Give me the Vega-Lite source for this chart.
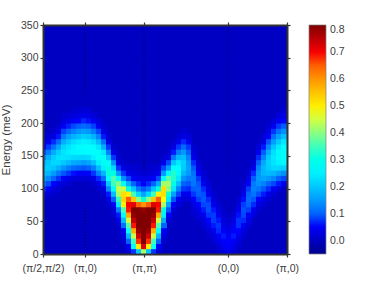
{"$schema":"https://vega.github.io/schema/vega-lite/v6.json","width":244,"height":229,"autosize":"none","padding":{"left":43,"top":25,"right":87,"bottom":35},"background":"white","config":{"view":{"stroke":null},"font":"Liberation Sans"},
"datasets":{"bg":[{"x":0,"x2":244,"y":0,"y2":350,"v":0}],"guides":[{"x":42,"y":245,"y2":350},{"x":42,"y":0,"y2":78},{"x":101,"y":128,"y2":350},{"x":185,"y":128,"y2":350}],
"cells":[
{"x":1,"y":84,"v":0.014},{"x":1,"y":92,"v":0.033},{"x":1,"y":100,"v":0.065},{"x":1,"y":108,"v":0.109},{"x":1,"y":116,"v":0.157},{"x":1,"y":124,"v":0.191},{"x":1,"y":132,"v":0.199},{"x":1,"y":140,"v":0.176},{"x":1,"y":148,"v":0.133},{"x":1,"y":156,"v":0.086},{"x":1,"y":164,"v":0.047},{"x":1,"y":172,"v":0.022},{"x":1,"y":180,"v":0.012},
{"x":6,"y":92,"v":0.02},{"x":6,"y":100,"v":0.045},{"x":6,"y":108,"v":0.084},{"x":6,"y":116,"v":0.134},{"x":6,"y":124,"v":0.18},{"x":6,"y":132,"v":0.207},{"x":6,"y":140,"v":0.2},{"x":6,"y":148,"v":0.17},{"x":6,"y":156,"v":0.12},{"x":6,"y":164,"v":0.073},{"x":6,"y":172,"v":0.038},{"x":6,"y":180,"v":0.017},
{"x":11,"y":92,"v":0.011},{"x":11,"y":100,"v":0.027},{"x":11,"y":108,"v":0.056},{"x":11,"y":116,"v":0.101},{"x":11,"y":124,"v":0.153},{"x":11,"y":132,"v":0.198},{"x":11,"y":140,"v":0.22},{"x":11,"y":148,"v":0.207},{"x":11,"y":156,"v":0.166},{"x":11,"y":164,"v":0.112},{"x":11,"y":172,"v":0.066},{"x":11,"y":180,"v":0.033},{"x":11,"y":188,"v":0.014},
{"x":16,"y":100,"v":0.015},{"x":16,"y":108,"v":0.034},{"x":16,"y":116,"v":0.069},{"x":16,"y":124,"v":0.118},{"x":16,"y":132,"v":0.173},{"x":16,"y":140,"v":0.216},{"x":16,"y":148,"v":0.23},{"x":16,"y":156,"v":0.207},{"x":16,"y":164,"v":0.16},{"x":16,"y":172,"v":0.106},{"x":16,"y":180,"v":0.059},{"x":16,"y":188,"v":0.03},{"x":16,"y":196,"v":0.012},
{"x":21,"y":108,"v":0.021},{"x":21,"y":116,"v":0.048},{"x":21,"y":124,"v":0.09},{"x":21,"y":132,"v":0.146},{"x":21,"y":140,"v":0.2},{"x":21,"y":148,"v":0.235},{"x":21,"y":156,"v":0.236},{"x":21,"y":164,"v":0.215},{"x":21,"y":172,"v":0.17},{"x":21,"y":180,"v":0.12},{"x":21,"y":188,"v":0.078},{"x":21,"y":196,"v":0.045},{"x":21,"y":204,"v":0.024},{"x":21,"y":212,"v":0.01},
{"x":26,"y":108,"v":0.014},{"x":26,"y":116,"v":0.034},{"x":26,"y":124,"v":0.07},{"x":26,"y":132,"v":0.122},{"x":26,"y":140,"v":0.182},{"x":26,"y":148,"v":0.23},{"x":26,"y":156,"v":0.25},{"x":26,"y":164,"v":0.236},{"x":26,"y":172,"v":0.2},{"x":26,"y":180,"v":0.152},{"x":26,"y":188,"v":0.103},{"x":26,"y":196,"v":0.062},{"x":26,"y":204,"v":0.034},{"x":26,"y":212,"v":0.017},
{"x":31,"y":116,"v":0.026},{"x":31,"y":124,"v":0.058},{"x":31,"y":132,"v":0.106},{"x":31,"y":140,"v":0.166},{"x":31,"y":148,"v":0.22},{"x":31,"y":156,"v":0.257},{"x":31,"y":164,"v":0.254},{"x":31,"y":172,"v":0.225},{"x":31,"y":180,"v":0.177},{"x":31,"y":188,"v":0.125},{"x":31,"y":196,"v":0.08},{"x":31,"y":204,"v":0.045},{"x":31,"y":212,"v":0.023},{"x":31,"y":220,"v":0.01},
{"x":36,"y":116,"v":0.022},{"x":36,"y":124,"v":0.05},{"x":36,"y":132,"v":0.098},{"x":36,"y":140,"v":0.16},{"x":36,"y":148,"v":0.22},{"x":36,"y":156,"v":0.26},{"x":36,"y":164,"v":0.266},{"x":36,"y":172,"v":0.24},{"x":36,"y":180,"v":0.19},{"x":36,"y":188,"v":0.143},{"x":36,"y":196,"v":0.095},{"x":36,"y":204,"v":0.055},{"x":36,"y":212,"v":0.03},{"x":36,"y":220,"v":0.015},
{"x":41,"y":116,"v":0.02},{"x":41,"y":124,"v":0.045},{"x":41,"y":132,"v":0.09},{"x":41,"y":140,"v":0.15},{"x":41,"y":148,"v":0.215},{"x":41,"y":156,"v":0.263},{"x":41,"y":164,"v":0.274},{"x":41,"y":172,"v":0.25},{"x":41,"y":180,"v":0.207},{"x":41,"y":188,"v":0.155},{"x":41,"y":196,"v":0.105},{"x":41,"y":204,"v":0.064},{"x":41,"y":212,"v":0.035},{"x":41,"y":220,"v":0.017},
{"x":46,"y":116,"v":0.022},{"x":46,"y":124,"v":0.05},{"x":46,"y":132,"v":0.098},{"x":46,"y":140,"v":0.16},{"x":46,"y":148,"v":0.22},{"x":46,"y":156,"v":0.265},{"x":46,"y":164,"v":0.27},{"x":46,"y":172,"v":0.245},{"x":46,"y":180,"v":0.2},{"x":46,"y":188,"v":0.147},{"x":46,"y":196,"v":0.098},{"x":46,"y":204,"v":0.058},{"x":46,"y":212,"v":0.032},{"x":46,"y":220,"v":0.016},
{"x":51,"y":108,"v":0.012},{"x":51,"y":116,"v":0.03},{"x":51,"y":124,"v":0.07},{"x":51,"y":132,"v":0.125},{"x":51,"y":140,"v":0.19},{"x":51,"y":148,"v":0.25},{"x":51,"y":156,"v":0.275},{"x":51,"y":164,"v":0.265},{"x":51,"y":172,"v":0.23},{"x":51,"y":180,"v":0.175},{"x":51,"y":188,"v":0.12},{"x":51,"y":196,"v":0.075},{"x":51,"y":204,"v":0.042},{"x":51,"y":212,"v":0.02},
{"x":56,"y":100,"v":0.012},{"x":56,"y":108,"v":0.03},{"x":56,"y":116,"v":0.065},{"x":56,"y":124,"v":0.125},{"x":56,"y":132,"v":0.185},{"x":56,"y":140,"v":0.245},{"x":56,"y":148,"v":0.278},{"x":56,"y":156,"v":0.275},{"x":56,"y":164,"v":0.24},{"x":56,"y":172,"v":0.185},{"x":56,"y":180,"v":0.13},{"x":56,"y":188,"v":0.08},{"x":56,"y":196,"v":0.045},{"x":56,"y":204,"v":0.022},
{"x":61,"y":92,"v":0.012},{"x":61,"y":100,"v":0.025},{"x":61,"y":108,"v":0.06},{"x":61,"y":116,"v":0.11},{"x":61,"y":124,"v":0.18},{"x":61,"y":132,"v":0.25},{"x":61,"y":140,"v":0.288},{"x":61,"y":148,"v":0.28},{"x":61,"y":156,"v":0.24},{"x":61,"y":164,"v":0.17},{"x":61,"y":172,"v":0.11},{"x":61,"y":180,"v":0.06},{"x":61,"y":188,"v":0.03},{"x":61,"y":196,"v":0.013},
{"x":66,"y":76,"v":0.012},{"x":66,"y":84,"v":0.03},{"x":66,"y":92,"v":0.06},{"x":66,"y":100,"v":0.13},{"x":66,"y":108,"v":0.2},{"x":66,"y":116,"v":0.27},{"x":66,"y":124,"v":0.31},{"x":66,"y":132,"v":0.31},{"x":66,"y":140,"v":0.27},{"x":66,"y":148,"v":0.2},{"x":66,"y":156,"v":0.125},{"x":66,"y":164,"v":0.07},{"x":66,"y":172,"v":0.03},{"x":66,"y":180,"v":0.012},
{"x":71,"y":60,"v":0.012},{"x":71,"y":68,"v":0.02},{"x":71,"y":76,"v":0.05},{"x":71,"y":84,"v":0.1},{"x":71,"y":92,"v":0.19},{"x":71,"y":100,"v":0.28},{"x":71,"y":108,"v":0.35},{"x":71,"y":116,"v":0.36},{"x":71,"y":124,"v":0.31},{"x":71,"y":132,"v":0.22},{"x":71,"y":140,"v":0.14},{"x":71,"y":148,"v":0.07},{"x":71,"y":156,"v":0.03},{"x":71,"y":164,"v":0.012},
{"x":76,"y":44,"v":0.012},{"x":76,"y":52,"v":0.03},{"x":76,"y":60,"v":0.06},{"x":76,"y":68,"v":0.12},{"x":76,"y":76,"v":0.24},{"x":76,"y":84,"v":0.34},{"x":76,"y":92,"v":0.42},{"x":76,"y":100,"v":0.44},{"x":76,"y":108,"v":0.39},{"x":76,"y":116,"v":0.28},{"x":76,"y":124,"v":0.15},{"x":76,"y":132,"v":0.07},{"x":76,"y":140,"v":0.03},{"x":76,"y":148,"v":0.012},
{"x":81,"y":20,"v":0.012},{"x":81,"y":28,"v":0.025},{"x":81,"y":36,"v":0.05},{"x":81,"y":44,"v":0.11},{"x":81,"y":52,"v":0.19},{"x":81,"y":60,"v":0.28},{"x":81,"y":68,"v":0.36},{"x":81,"y":76,"v":0.5},{"x":81,"y":84,"v":0.53},{"x":81,"y":92,"v":0.52},{"x":81,"y":100,"v":0.44},{"x":81,"y":108,"v":0.28},{"x":81,"y":116,"v":0.14},{"x":81,"y":124,"v":0.07},{"x":81,"y":132,"v":0.03},{"x":81,"y":140,"v":0.012},
{"x":86,"y":4,"v":0.02},{"x":86,"y":12,"v":0.05},{"x":86,"y":20,"v":0.1},{"x":86,"y":28,"v":0.18},{"x":86,"y":36,"v":0.27},{"x":86,"y":44,"v":0.36},{"x":86,"y":52,"v":0.45},{"x":86,"y":60,"v":0.58},{"x":86,"y":68,"v":0.69},{"x":86,"y":76,"v":0.7},{"x":86,"y":84,"v":0.65},{"x":86,"y":92,"v":0.5},{"x":86,"y":100,"v":0.32},{"x":86,"y":108,"v":0.17},{"x":86,"y":116,"v":0.08},{"x":86,"y":124,"v":0.04},{"x":86,"y":132,"v":0.02},
{"x":91,"y":4,"v":0.07},{"x":91,"y":12,"v":0.27},{"x":91,"y":20,"v":0.35},{"x":91,"y":28,"v":0.44},{"x":91,"y":36,"v":0.57},{"x":91,"y":44,"v":0.69},{"x":91,"y":52,"v":0.74},{"x":91,"y":60,"v":0.78},{"x":91,"y":68,"v":0.8},{"x":91,"y":76,"v":0.72},{"x":91,"y":84,"v":0.55},{"x":91,"y":92,"v":0.35},{"x":91,"y":100,"v":0.2},{"x":91,"y":108,"v":0.1},{"x":91,"y":116,"v":0.05},{"x":91,"y":124,"v":0.025},{"x":91,"y":132,"v":0.012},
{"x":96,"y":4,"v":0.2},{"x":96,"y":12,"v":0.5},{"x":96,"y":20,"v":0.68},{"x":96,"y":28,"v":0.73},{"x":96,"y":36,"v":0.78},{"x":96,"y":44,"v":0.84},{"x":96,"y":52,"v":0.9},{"x":96,"y":60,"v":0.95},{"x":96,"y":68,"v":0.82},{"x":96,"y":76,"v":0.65},{"x":96,"y":84,"v":0.4},{"x":96,"y":92,"v":0.22},{"x":96,"y":100,"v":0.12},{"x":96,"y":108,"v":0.065},{"x":96,"y":116,"v":0.035},{"x":96,"y":124,"v":0.02},{"x":96,"y":132,"v":0.012},
{"x":101,"y":4,"v":0.42},{"x":101,"y":12,"v":0.72},{"x":101,"y":20,"v":0.83},{"x":101,"y":28,"v":0.9},{"x":101,"y":36,"v":0.9},{"x":101,"y":44,"v":0.95},{"x":101,"y":52,"v":0.95},{"x":101,"y":60,"v":0.95},{"x":101,"y":68,"v":0.78},{"x":101,"y":76,"v":0.6},{"x":101,"y":84,"v":0.33},{"x":101,"y":92,"v":0.16},{"x":101,"y":100,"v":0.09},{"x":101,"y":108,"v":0.05},{"x":101,"y":116,"v":0.03},{"x":101,"y":124,"v":0.015},
{"x":106,"y":4,"v":0.2},{"x":106,"y":12,"v":0.5},{"x":106,"y":20,"v":0.68},{"x":106,"y":28,"v":0.73},{"x":106,"y":36,"v":0.78},{"x":106,"y":44,"v":0.84},{"x":106,"y":52,"v":0.9},{"x":106,"y":60,"v":0.95},{"x":106,"y":68,"v":0.82},{"x":106,"y":76,"v":0.65},{"x":106,"y":84,"v":0.4},{"x":106,"y":92,"v":0.22},{"x":106,"y":100,"v":0.12},{"x":106,"y":108,"v":0.065},{"x":106,"y":116,"v":0.035},{"x":106,"y":124,"v":0.02},{"x":106,"y":132,"v":0.012},
{"x":111,"y":4,"v":0.07},{"x":111,"y":12,"v":0.27},{"x":111,"y":20,"v":0.35},{"x":111,"y":28,"v":0.44},{"x":111,"y":36,"v":0.57},{"x":111,"y":44,"v":0.69},{"x":111,"y":52,"v":0.74},{"x":111,"y":60,"v":0.78},{"x":111,"y":68,"v":0.8},{"x":111,"y":76,"v":0.72},{"x":111,"y":84,"v":0.55},{"x":111,"y":92,"v":0.35},{"x":111,"y":100,"v":0.2},{"x":111,"y":108,"v":0.1},{"x":111,"y":116,"v":0.05},{"x":111,"y":124,"v":0.025},{"x":111,"y":132,"v":0.012},
{"x":116,"y":4,"v":0.02},{"x":116,"y":12,"v":0.05},{"x":116,"y":20,"v":0.1},{"x":116,"y":28,"v":0.18},{"x":116,"y":36,"v":0.27},{"x":116,"y":44,"v":0.36},{"x":116,"y":52,"v":0.45},{"x":116,"y":60,"v":0.58},{"x":116,"y":68,"v":0.69},{"x":116,"y":76,"v":0.7},{"x":116,"y":84,"v":0.65},{"x":116,"y":92,"v":0.5},{"x":116,"y":100,"v":0.32},{"x":116,"y":108,"v":0.17},{"x":116,"y":116,"v":0.08},{"x":116,"y":124,"v":0.04},{"x":116,"y":132,"v":0.02},
{"x":121,"y":20,"v":0.012},{"x":121,"y":28,"v":0.025},{"x":121,"y":36,"v":0.05},{"x":121,"y":44,"v":0.1},{"x":121,"y":52,"v":0.17},{"x":121,"y":60,"v":0.25},{"x":121,"y":68,"v":0.32},{"x":121,"y":76,"v":0.42},{"x":121,"y":84,"v":0.48},{"x":121,"y":92,"v":0.52},{"x":121,"y":100,"v":0.52},{"x":121,"y":108,"v":0.42},{"x":121,"y":116,"v":0.27},{"x":121,"y":124,"v":0.15},{"x":121,"y":132,"v":0.08},{"x":121,"y":140,"v":0.035},{"x":121,"y":148,"v":0.012},
{"x":126,"y":52,"v":0.02},{"x":126,"y":60,"v":0.05},{"x":126,"y":68,"v":0.09},{"x":126,"y":76,"v":0.16},{"x":126,"y":84,"v":0.24},{"x":126,"y":92,"v":0.33},{"x":126,"y":100,"v":0.4},{"x":126,"y":108,"v":0.42},{"x":126,"y":116,"v":0.37},{"x":126,"y":124,"v":0.26},{"x":126,"y":132,"v":0.15},{"x":126,"y":140,"v":0.08},{"x":126,"y":148,"v":0.03},{"x":126,"y":156,"v":0.012},
{"x":131,"y":68,"v":0.02},{"x":131,"y":76,"v":0.05},{"x":131,"y":84,"v":0.09},{"x":131,"y":92,"v":0.16},{"x":131,"y":100,"v":0.24},{"x":131,"y":108,"v":0.3},{"x":131,"y":116,"v":0.335},{"x":131,"y":124,"v":0.335},{"x":131,"y":132,"v":0.28},{"x":131,"y":140,"v":0.2},{"x":131,"y":148,"v":0.12},{"x":131,"y":156,"v":0.06},{"x":131,"y":164,"v":0.03},{"x":131,"y":172,"v":0.012},
{"x":136,"y":76,"v":0.02},{"x":136,"y":84,"v":0.04},{"x":136,"y":92,"v":0.08},{"x":136,"y":100,"v":0.13},{"x":136,"y":108,"v":0.19},{"x":136,"y":116,"v":0.24},{"x":136,"y":124,"v":0.265},{"x":136,"y":132,"v":0.27},{"x":136,"y":140,"v":0.24},{"x":136,"y":148,"v":0.18},{"x":136,"y":156,"v":0.12},{"x":136,"y":164,"v":0.07},{"x":136,"y":172,"v":0.035},{"x":136,"y":180,"v":0.015},
{"x":141,"y":84,"v":0.02},{"x":141,"y":92,"v":0.04},{"x":141,"y":100,"v":0.07},{"x":141,"y":108,"v":0.1},{"x":141,"y":116,"v":0.14},{"x":141,"y":124,"v":0.18},{"x":141,"y":132,"v":0.205},{"x":141,"y":140,"v":0.21},{"x":141,"y":148,"v":0.19},{"x":141,"y":156,"v":0.15},{"x":141,"y":164,"v":0.105},{"x":141,"y":172,"v":0.065},{"x":141,"y":180,"v":0.035},{"x":141,"y":188,"v":0.015},
{"x":146,"y":84,"v":0.02},{"x":146,"y":92,"v":0.04},{"x":146,"y":100,"v":0.065},{"x":146,"y":108,"v":0.09},{"x":146,"y":116,"v":0.12},{"x":146,"y":124,"v":0.15},{"x":146,"y":132,"v":0.16},{"x":146,"y":140,"v":0.155},{"x":146,"y":148,"v":0.13},{"x":146,"y":156,"v":0.1},{"x":146,"y":164,"v":0.07},{"x":146,"y":172,"v":0.04},{"x":146,"y":180,"v":0.02},
{"x":151,"y":60,"v":0.012},{"x":151,"y":68,"v":0.02},{"x":151,"y":76,"v":0.03},{"x":151,"y":84,"v":0.05},{"x":151,"y":92,"v":0.07},{"x":151,"y":100,"v":0.095},{"x":151,"y":108,"v":0.115},{"x":151,"y":116,"v":0.12},{"x":151,"y":124,"v":0.11},{"x":151,"y":132,"v":0.09},{"x":151,"y":140,"v":0.065},{"x":151,"y":148,"v":0.04},{"x":151,"y":156,"v":0.022},{"x":151,"y":164,"v":0.012},
{"x":156,"y":52,"v":0.012},{"x":156,"y":60,"v":0.02},{"x":156,"y":68,"v":0.035},{"x":156,"y":76,"v":0.055},{"x":156,"y":84,"v":0.075},{"x":156,"y":92,"v":0.095},{"x":156,"y":100,"v":0.1},{"x":156,"y":108,"v":0.09},{"x":156,"y":116,"v":0.07},{"x":156,"y":124,"v":0.05},{"x":156,"y":132,"v":0.03},{"x":156,"y":140,"v":0.017},
{"x":161,"y":44,"v":0.015},{"x":161,"y":52,"v":0.025},{"x":161,"y":60,"v":0.04},{"x":161,"y":68,"v":0.06},{"x":161,"y":76,"v":0.08},{"x":161,"y":84,"v":0.09},{"x":161,"y":92,"v":0.085},{"x":161,"y":100,"v":0.065},{"x":161,"y":108,"v":0.045},{"x":161,"y":116,"v":0.025},{"x":161,"y":124,"v":0.013},
{"x":166,"y":28,"v":0.012},{"x":166,"y":36,"v":0.022},{"x":166,"y":44,"v":0.035},{"x":166,"y":52,"v":0.055},{"x":166,"y":60,"v":0.07},{"x":166,"y":68,"v":0.085},{"x":166,"y":76,"v":0.08},{"x":166,"y":84,"v":0.065},{"x":166,"y":92,"v":0.045},{"x":166,"y":100,"v":0.028},{"x":166,"y":108,"v":0.015},
{"x":171,"y":20,"v":0.015},{"x":171,"y":28,"v":0.025},{"x":171,"y":36,"v":0.04},{"x":171,"y":44,"v":0.06},{"x":171,"y":52,"v":0.073},{"x":171,"y":60,"v":0.073},{"x":171,"y":68,"v":0.06},{"x":171,"y":76,"v":0.04},{"x":171,"y":84,"v":0.025},{"x":171,"y":92,"v":0.014},
{"x":176,"y":4,"v":0.012},{"x":176,"y":12,"v":0.02},{"x":176,"y":20,"v":0.035},{"x":176,"y":28,"v":0.05},{"x":176,"y":36,"v":0.065},{"x":176,"y":44,"v":0.07},{"x":176,"y":52,"v":0.06},{"x":176,"y":60,"v":0.045},{"x":176,"y":68,"v":0.03},{"x":176,"y":76,"v":0.018},
{"x":181,"y":4,"v":0.025},{"x":181,"y":12,"v":0.04},{"x":181,"y":20,"v":0.055},{"x":181,"y":28,"v":0.06},{"x":181,"y":36,"v":0.052},{"x":181,"y":44,"v":0.038},{"x":181,"y":52,"v":0.025},{"x":181,"y":60,"v":0.014},
{"x":186,"y":4,"v":0.045},{"x":186,"y":12,"v":0.055},{"x":186,"y":20,"v":0.053},{"x":186,"y":28,"v":0.045},{"x":186,"y":36,"v":0.032},{"x":186,"y":44,"v":0.02},{"x":186,"y":52,"v":0.012},
{"x":191,"y":4,"v":0.02},{"x":191,"y":12,"v":0.035},{"x":191,"y":20,"v":0.05},{"x":191,"y":28,"v":0.06},{"x":191,"y":36,"v":0.056},{"x":191,"y":44,"v":0.045},{"x":191,"y":52,"v":0.03},{"x":191,"y":60,"v":0.018},
{"x":196,"y":12,"v":0.015},{"x":196,"y":20,"v":0.025},{"x":196,"y":28,"v":0.04},{"x":196,"y":36,"v":0.055},{"x":196,"y":44,"v":0.068},{"x":196,"y":52,"v":0.068},{"x":196,"y":60,"v":0.058},{"x":196,"y":68,"v":0.04},{"x":196,"y":76,"v":0.026},{"x":196,"y":84,"v":0.014},
{"x":201,"y":28,"v":0.015},{"x":201,"y":36,"v":0.027},{"x":201,"y":44,"v":0.045},{"x":201,"y":52,"v":0.065},{"x":201,"y":60,"v":0.08},{"x":201,"y":68,"v":0.085},{"x":201,"y":76,"v":0.075},{"x":201,"y":84,"v":0.058},{"x":201,"y":92,"v":0.04},{"x":201,"y":100,"v":0.022},{"x":201,"y":108,"v":0.012},
{"x":206,"y":44,"v":0.016},{"x":206,"y":52,"v":0.03},{"x":206,"y":60,"v":0.05},{"x":206,"y":68,"v":0.075},{"x":206,"y":76,"v":0.097},{"x":206,"y":84,"v":0.105},{"x":206,"y":92,"v":0.097},{"x":206,"y":100,"v":0.075},{"x":206,"y":108,"v":0.05},{"x":206,"y":116,"v":0.03},{"x":206,"y":124,"v":0.015},
{"x":211,"y":60,"v":0.025},{"x":211,"y":68,"v":0.04},{"x":211,"y":76,"v":0.065},{"x":211,"y":84,"v":0.09},{"x":211,"y":92,"v":0.115},{"x":211,"y":100,"v":0.125},{"x":211,"y":108,"v":0.12},{"x":211,"y":116,"v":0.095},{"x":211,"y":124,"v":0.065},{"x":211,"y":132,"v":0.04},{"x":211,"y":140,"v":0.02},
{"x":216,"y":68,"v":0.012},{"x":216,"y":76,"v":0.03},{"x":216,"y":84,"v":0.055},{"x":216,"y":92,"v":0.085},{"x":216,"y":100,"v":0.115},{"x":216,"y":108,"v":0.14},{"x":216,"y":116,"v":0.15},{"x":216,"y":124,"v":0.145},{"x":216,"y":132,"v":0.125},{"x":216,"y":140,"v":0.095},{"x":216,"y":148,"v":0.065},{"x":216,"y":156,"v":0.04},{"x":216,"y":164,"v":0.02},
{"x":221,"y":76,"v":0.015},{"x":221,"y":84,"v":0.035},{"x":221,"y":92,"v":0.06},{"x":221,"y":100,"v":0.09},{"x":221,"y":108,"v":0.125},{"x":221,"y":116,"v":0.16},{"x":221,"y":124,"v":0.18},{"x":221,"y":132,"v":0.18},{"x":221,"y":140,"v":0.165},{"x":221,"y":148,"v":0.13},{"x":221,"y":156,"v":0.095},{"x":221,"y":164,"v":0.06},{"x":221,"y":172,"v":0.035},{"x":221,"y":180,"v":0.017},
{"x":226,"y":84,"v":0.015},{"x":226,"y":92,"v":0.035},{"x":226,"y":100,"v":0.065},{"x":226,"y":108,"v":0.1},{"x":226,"y":116,"v":0.15},{"x":226,"y":124,"v":0.185},{"x":226,"y":132,"v":0.205},{"x":226,"y":140,"v":0.21},{"x":226,"y":148,"v":0.2},{"x":226,"y":156,"v":0.17},{"x":226,"y":164,"v":0.13},{"x":226,"y":172,"v":0.09},{"x":226,"y":180,"v":0.055},{"x":226,"y":188,"v":0.03},{"x":226,"y":196,"v":0.014},
{"x":231,"y":92,"v":0.018},{"x":231,"y":100,"v":0.04},{"x":231,"y":108,"v":0.08},{"x":231,"y":116,"v":0.13},{"x":231,"y":124,"v":0.18},{"x":231,"y":132,"v":0.22},{"x":231,"y":140,"v":0.235},{"x":231,"y":148,"v":0.24},{"x":231,"y":156,"v":0.23},{"x":231,"y":164,"v":0.195},{"x":231,"y":172,"v":0.155},{"x":231,"y":180,"v":0.11},{"x":231,"y":188,"v":0.07},{"x":231,"y":196,"v":0.04},{"x":231,"y":204,"v":0.02},
{"x":236,"y":100,"v":0.025},{"x":236,"y":108,"v":0.06},{"x":236,"y":116,"v":0.1},{"x":236,"y":124,"v":0.16},{"x":236,"y":132,"v":0.22},{"x":236,"y":140,"v":0.25},{"x":236,"y":148,"v":0.26},{"x":236,"y":156,"v":0.26},{"x":236,"y":164,"v":0.24},{"x":236,"y":172,"v":0.2},{"x":236,"y":180,"v":0.155},{"x":236,"y":188,"v":0.11},{"x":236,"y":196,"v":0.07},{"x":236,"y":204,"v":0.04},{"x":236,"y":212,"v":0.02},
{"x":241,"y":108,"v":0.04},{"x":241,"y":116,"v":0.08},{"x":241,"y":124,"v":0.14},{"x":241,"y":132,"v":0.21},{"x":241,"y":140,"v":0.26},{"x":241,"y":148,"v":0.28},{"x":241,"y":156,"v":0.28},{"x":241,"y":164,"v":0.27},{"x":241,"y":172,"v":0.24},{"x":241,"y":180,"v":0.19},{"x":241,"y":188,"v":0.14},{"x":241,"y":196,"v":0.095},{"x":241,"y":204,"v":0.055},{"x":241,"y":212,"v":0.03},{"x":241,"y":220,"v":0.014}
]},
"layer":[
{"data":{"name":"bg"},"mark":{"type":"rect"},"encoding":{"x":{"field":"x","type":"quantitative","scale":{"domain":[0,244],"nice":false,"zero":false},"axis":null},"x2":{"field":"x2"},"y":{"field":"y","type":"quantitative","scale":{"domain":[0,350],"nice":false},"axis":null},"y2":{"field":"y2"},"color":{"field":"v","type":"quantitative","scale":{"domain":[-0.05,0.0563,0.2688,0.4813,0.6938,0.8],"range":["#00008f","#0000ff","#00ffff","#ffff00","#ff0000","#800000"],"clamp":true},"legend":{"orient":"none","legendX":266,"legendY":0,"title":null,"gradientLength":229,"gradientThickness":17,"gradientStrokeColor":"#808080","gradientStrokeWidth":0.7,"values":[0,0.1,0.2,0.3,0.4,0.5,0.6,0.7,0.8],"labelFontSize":10.5,"labelColor":"#404040","labelOffset":4,"labelFont":"Liberation Sans"}}}},
{"data":{"name":"cells"},"mark":{"type":"rect","width":6,"height":6,"clip":true},"encoding":{"x":{"field":"x","type":"quantitative","axis":null},"y":{"field":"y","type":"quantitative","axis":null},"color":{"field":"v","type":"quantitative"}}},
{"data":{"name":"guides"},"mark":{"type":"rule","color":"#000000","strokeWidth":0.8,"strokeDash":[1,2],"opacity":0.7},"encoding":{"x":{"field":"x","type":"quantitative","axis":{"orient":"bottom","values":[0,42,101,185,244],"title":null,"grid":false,"zindex":1,"domainColor":"#333333","domainWidth":2,"tickColor":"#333333","tickSize":3,"tickWidth":1.2,"labelColor":"#404040","labelFontSize":10.5,"labelPadding":6,"labelFlush":false,"labelExpr":"datum.value==0?'(π/2,π/2)':datum.value==42?'(π,0)':datum.value==101?'(π,π)':datum.value==185?'(0,0)':'(π,0)'"}},"y":{"field":"y","type":"quantitative","axis":{"orient":"left","values":[0,50,100,150,200,250,300,350],"title":"Energy (meV)","titleFontWeight":"normal","titleFontSize":11.5,"titleColor":"#404040","titlePadding":9,"grid":false,"zindex":1,"domainColor":"#333333","domainWidth":2,"tickColor":"#333333","tickSize":3,"tickWidth":1.2,"labelColor":"#404040","labelFontSize":10.5,"labelPadding":2}},"y2":{"field":"y2"}}},
{"data":{"name":"guides"},"mark":{"type":"rule","opacity":0},"encoding":{"x":{"field":"x","type":"quantitative","axis":{"orient":"top","values":[0,42,101,185,244],"title":null,"grid":false,"labels":false,"zindex":1,"domainColor":"#333333","domainWidth":2,"tickColor":"#333333","tickSize":3,"tickWidth":1.2}},"y":{"field":"y","type":"quantitative","axis":{"orient":"right","values":[0,50,100,150,200,250,300,350],"title":null,"grid":false,"labels":false,"zindex":1,"domainColor":"#333333","domainWidth":2,"tickColor":"#333333","tickSize":3,"tickWidth":1.2}},"y2":{"field":"y2"}}}
],
"resolve":{"axis":{"x":"independent","y":"independent"}}}
